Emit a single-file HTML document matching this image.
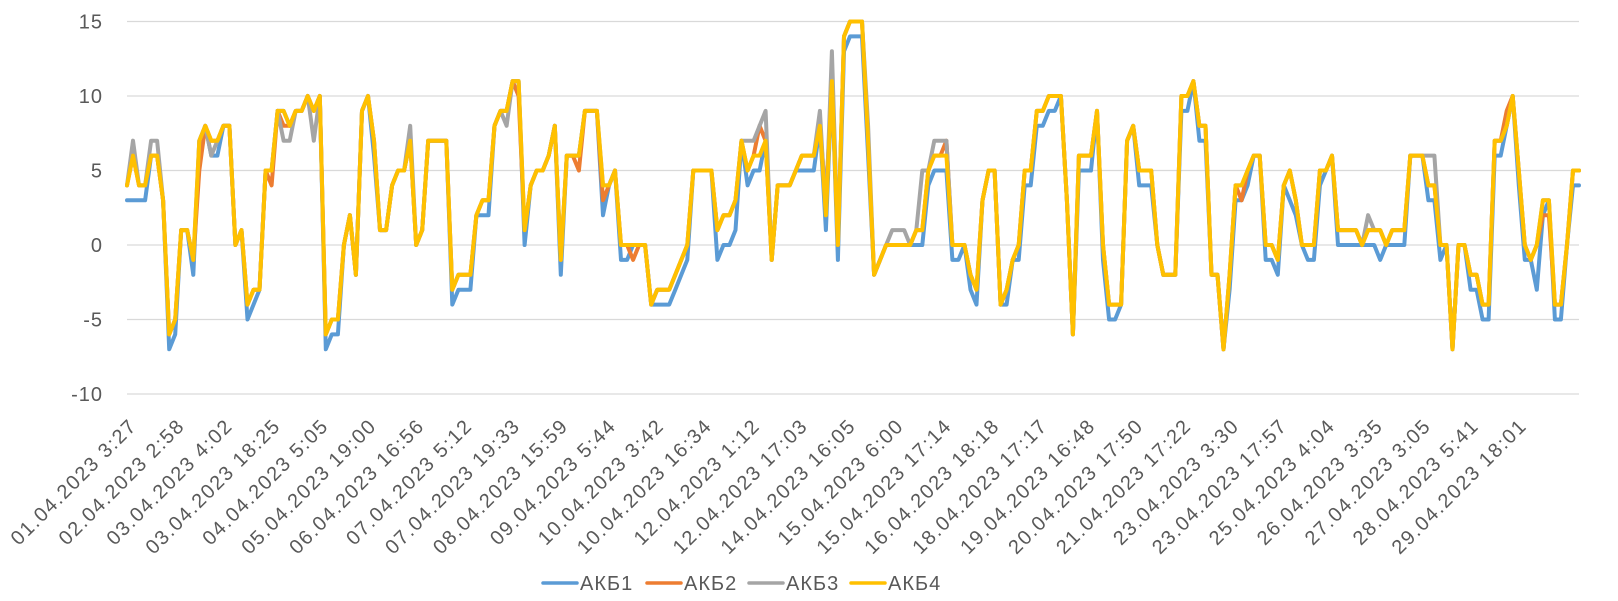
<!DOCTYPE html>
<html><head><meta charset="utf-8"><style>
html,body{margin:0;padding:0;background:#fff;}
svg{display:block;font-family:"Liberation Sans",sans-serif;}
</style></head><body>
<svg id="chart" width="1618" height="601" viewBox="0 0 1618 601" xmlns="http://www.w3.org/2000/svg">
<g id="grid"></g>
<g id="yaxis"></g>
<g id="xaxis"></g>
<g id="series"></g>
<g id="legend"></g>
</svg>
<script>
const yTicks = [15, 10, 5, 0, -5, -10];
const xLabels = ["01.04.2023 3:27","02.04.2023 2:58","03.04.2023 4:02","03.04.2023 18:25","04.04.2023 5:05","05.04.2023 19:00","06.04.2023 16:56","07.04.2023 5:12","07.04.2023 19:33","08.04.2023 15:59","09.04.2023 5:44","10.04.2023 3:42","10.04.2023 16:34","12.04.2023 1:12","12.04.2023 17:03","14.04.2023 16:05","15.04.2023 6:00","15.04.2023 17:14","16.04.2023 18:18","18.04.2023 17:17","19.04.2023 16:48","20.04.2023 17:50","21.04.2023 17:22","23.04.2023 3:30","23.04.2023 17:57","25.04.2023 4:04","26.04.2023 3:35","27.04.2023 3:05","28.04.2023 5:41","29.04.2023 18:01"];
const seriesNames = ["АКБ1","АКБ2","АКБ3","АКБ4"];
const akb4 = [4,6,4,4,6,6,3,-6,-5,1,1,-1,7,8,7,7,8,8,0,1,-4,-3,-3,5,5,9,9,8,9,9,10,9,10,-6,-5,-5,0,2,-2,9,10,7,1,1,4,5,5,7,0,1,7,7,7,7,-3,-2,-2,-2,2,3,3,8,9,9,
11,11,1,4,5,5,6,8,-1,6,6,6,9,9,9,4,4,5,0,0,0,0,0,-4,-3,-3,-3,-2,-1,0,5,5,5,5,1,2,2,3,7,5,6,6,7,-1,4,4,4,5,6,6,6,8,2,11,0,14,15,15,15,7,-2,-1,0,0,0,
0,0,1,1,5,6,6,6,0,0,0,-2,-3,3,5,5,-4,-3,-1,0,5,5,9,9,10,10,10,3,-6,6,6,6,9,0,-4,-4,-4,7,8,5,5,5,0,-2,-2,-2,10,10,11,8,8,-2,-2,-7,-2,4,4,5,6,6,0,0,-1,4,5,
3,0,0,0,5,5,6,1,1,1,1,0,1,1,1,0,1,1,1,6,6,6,4,4,0,0,-7,0,0,-2,-2,-4,-4,7,7,8,10,5,0,-1,0,3,3,-4,-4,0,5,5];
const akb1 = [3,3,3,3,6,6,3,-7,-6,1,1,-2,7,8,6,6,8,8,0,1,-5,-4,-3,5,5,9,9,8,9,9,10,9,10,-7,-6,-6,0,2,-2,9,10,6,1,1,4,5,5,7,0,1,7,7,7,7,-4,-3,-3,-3,2,2,2,8,9,9,
11,11,0,4,5,5,6,8,-2,6,6,6,9,9,9,2,4,5,-1,-1,0,0,0,-4,-4,-4,-4,-3,-2,-1,5,5,5,5,-1,0,0,1,7,4,5,5,7,-1,4,4,4,5,5,5,5,8,1,11,-1,13,14,14,14,6,-2,-1,0,0,0,
0,0,0,0,4,5,5,5,-1,-1,0,-3,-4,3,5,5,-4,-4,-1,-1,4,4,8,8,9,9,10,3,-6,5,5,5,9,-1,-5,-5,-4,7,8,4,4,4,0,-2,-2,-2,9,9,11,7,7,-2,-2,-7,-3,3,3,4,6,6,-1,-1,-2,4,3,
2,0,-1,-1,4,5,6,0,0,0,0,0,0,0,-1,0,0,0,0,6,6,6,3,3,-1,0,-7,0,0,-3,-3,-5,-5,6,6,8,10,4,-1,-1,-3,2,3,-5,-5,0,4,4];
const akb2 = [4,6,4,4,6,6,3,-6,-5,1,1,-1,5,8,7,7,8,8,0,1,-4,-3,-3,5,4,9,8,8,9,9,10,9,10,-6,-5,-5,0,2,-2,9,10,7,1,1,4,5,5,7,0,1,7,7,7,7,-3,-2,-2,-2,2,3,3,8,9,9,
11,10,1,4,5,5,6,8,-1,6,6,5,9,9,9,3,4,5,0,0,-1,0,0,-4,-3,-3,-3,-2,-1,0,5,5,5,5,1,2,2,3,7,5,6,8,7,-1,4,4,4,5,6,6,6,8,3,11,0,14,15,15,15,7,-2,-1,0,0,0,
0,0,1,1,5,6,6,7,0,0,0,-2,-3,3,5,5,-4,-3,-1,0,5,5,9,9,10,10,10,3,-6,6,6,6,9,0,-4,-4,-4,7,8,5,5,5,0,-2,-2,-2,10,10,11,8,8,-2,-2,-7,-2,4,3,5,6,6,0,0,-1,4,5,
3,0,0,0,5,5,6,1,1,1,1,0,1,1,1,0,1,1,1,6,6,6,4,4,0,0,-7,0,0,-2,-2,-4,-4,7,7,9,10,5,0,-1,0,2,2,-4,-4,0,5,5];
const akb3 = [4,7,4,4,7,7,3,-6,-5,1,1,-1,7,8,6,7,8,8,0,1,-4,-3,-3,5,5,9,7,7,9,9,10,7,10,-6,-5,-5,0,2,-2,9,10,7,1,1,4,5,5,8,0,1,7,7,7,7,-3,-2,-2,-2,2,3,3,8,9,8,
11,11,1,4,5,5,6,8,-1,6,6,6,9,9,9,4,4,5,0,0,0,0,0,-4,-3,-3,-3,-2,-1,0,5,5,5,5,1,2,2,3,7,7,7,8,9,-1,4,4,4,5,6,6,6,9,2,13,0,14,15,15,15,8,-2,-1,0,1,1,
1,0,1,5,5,7,7,7,0,0,0,-2,-3,3,5,5,-4,-3,-1,0,5,5,9,9,10,10,10,3,-6,6,6,6,9,0,-4,-4,-4,7,8,5,5,5,0,-2,-2,-2,10,10,11,8,8,-2,-2,-7,-2,4,4,5,6,6,0,0,-1,4,5,
3,0,0,0,5,5,6,1,1,1,1,0,2,1,1,0,1,1,1,6,6,6,6,6,0,0,-7,0,0,-2,-2,-4,-4,7,7,8,10,5,0,-1,0,3,3,-4,-4,0,5,5];
const seriesData = [akb1, akb2, akb3, akb4];
const seriesColors = ["#5B9BD5","#ED7D31","#A5A5A5","#FFC000"];

const NS = "http://www.w3.org/2000/svg";
const X0 = 127, X1 = 1579, YZERO = 245, UNIT = 14.9;
const N = akb4.length;
function xScale(i){ return X0 + (X1 - X0) * i / (N - 1); }
function yScale(v){ return YZERO - v * UNIT; }
function labelX(k){ return 130 + (1520 - 130) * k / (xLabels.length - 1); }

const grid = document.getElementById('grid');
const yaxis = document.getElementById('yaxis');
yTicks.forEach(t => {
  const l = document.createElementNS(NS,'line');
  l.setAttribute('x1', X0); l.setAttribute('x2', X1);
  l.setAttribute('y1', yScale(t)); l.setAttribute('y2', yScale(t));
  l.setAttribute('stroke', '#d9d9d9'); l.setAttribute('stroke-width', '1.3');
  
  
  grid.appendChild(l);
  const tx = document.createElementNS(NS,'text');
  tx.setAttribute('x', 103); tx.setAttribute('y', yScale(t) + 7);
  tx.setAttribute('text-anchor', 'end'); tx.setAttribute('font-size', '20');
  tx.setAttribute('letter-spacing', '1'); tx.setAttribute('fill', '#595959');
  tx.textContent = t;
  
  
  yaxis.appendChild(tx);
});

const xaxis = document.getElementById('xaxis');
xLabels.forEach((lab, k) => {
  const ax = labelX(k) + 8, ay = 427;
  const tx = document.createElementNS(NS,'text');
  tx.setAttribute('x', ax); tx.setAttribute('y', ay);
  tx.setAttribute('text-anchor', 'end'); tx.setAttribute('font-size', '20');
  tx.setAttribute('letter-spacing', '1.6'); tx.setAttribute('fill', '#595959');
  tx.setAttribute('transform', 'rotate(-45 ' + ax + ' ' + ay + ')');
  tx.textContent = lab;
  
  
  xaxis.appendChild(tx);
});

const sg = document.getElementById('series');
seriesData.forEach((arr, s) => {
  let d = '';
  arr.forEach((v, i) => { d += (i ? 'L' : 'M') + xScale(i).toFixed(1) + ' ' + yScale(v).toFixed(1); });
  const p = document.createElementNS(NS,'path');
  p.setAttribute('d', d); p.setAttribute('fill', 'none');
  p.setAttribute('stroke', seriesColors[s]); p.setAttribute('stroke-width', '4');
  p.setAttribute('stroke-linejoin', 'round'); p.setAttribute('stroke-linecap', 'round');
  
  
  sg.appendChild(p);
});

const lg = document.getElementById('legend');
const legendX = [543, 647, 749, 851];
seriesNames.forEach((n, s) => {
  const g = document.createElementNS(NS,'g');
  
  
  const l = document.createElementNS(NS,'line');
  l.setAttribute('x1', legendX[s]); l.setAttribute('x2', legendX[s] + 34);
  l.setAttribute('y1', 583); l.setAttribute('y2', 583);
  l.setAttribute('stroke', seriesColors[s]); l.setAttribute('stroke-width', '3.5');
  l.setAttribute('stroke-linecap', 'round');
  
  
  g.appendChild(l);
  const t = document.createElementNS(NS,'text');
  t.setAttribute('x', legendX[s] + 37); t.setAttribute('y', 590);
  t.setAttribute('font-size', '20'); t.setAttribute('letter-spacing', '1');
  t.setAttribute('fill', '#595959');
  t.textContent = n;
  
  
  g.appendChild(t);
  lg.appendChild(g);
});
</script>
</body></html>
